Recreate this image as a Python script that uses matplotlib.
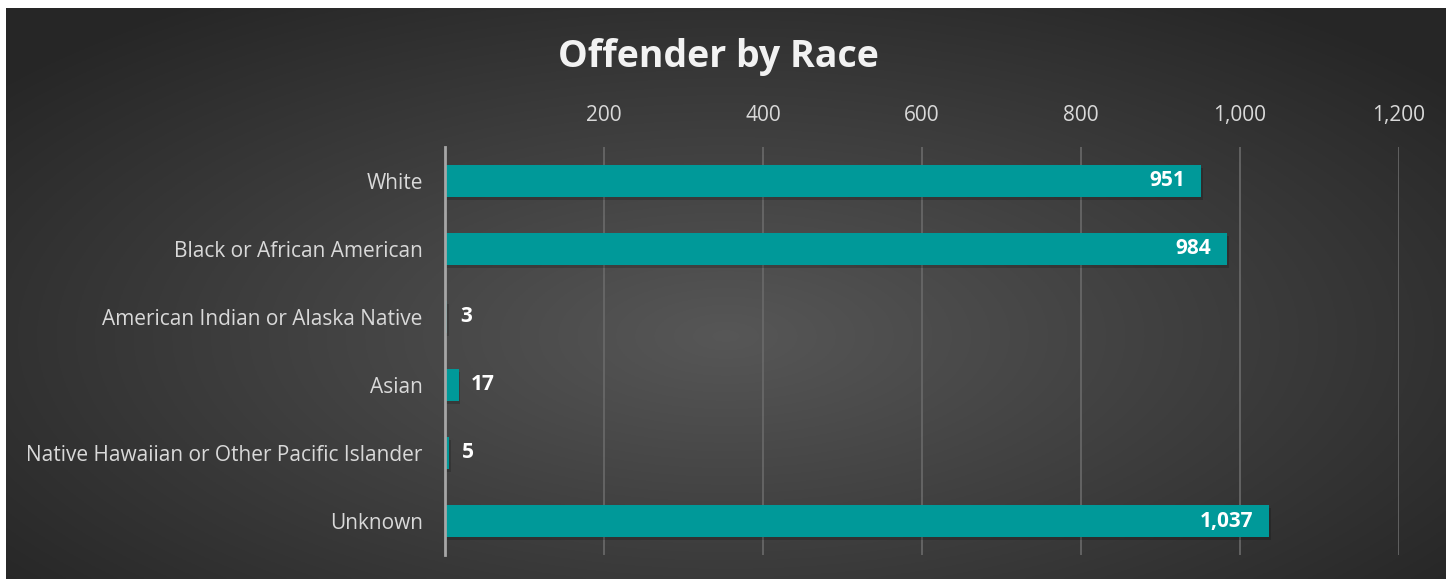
import numpy as np
import matplotlib.pyplot as plt

categories = ["White", "Black or African American", "American Indian or Alaska Native",
              "Asian", "Native Hawaiian or Other Pacific Islander", "Unknown"]
counts = [951, 984, 3, 17, 5, 1037]
xticks = [200, 400, 600, 800, 1000, 1200]
xtick_labels = ["200", "400", "600", "800", "1,000", "1,200"]

plt.rcParams['font.family'] = ['Open Sans', 'DejaVu Sans']

fig = plt.figure(figsize=(14.46, 5.79), dpi=100)
fig.patch.set_facecolor("white")

# radial gradient background
bg = fig.add_axes([6 / 1446, 0, 1 - 6 / 1446, 1 - 8 / 579])
bg.set_axis_off()
yy, xx = np.mgrid[-1:1:300j, -1:1:700j]
r = np.sqrt((xx / 1.0) ** 2 + ((yy - 0.15) / 1.1) ** 2)
r = np.clip(r / 1.3, 0, 1)
shade = 0.34 - 0.19 * r
bg.imshow(np.dstack([shade, shade, shade]), aspect="auto", extent=[0, 1, 0, 1])

ax = fig.add_axes([445 / 1446, 1 - 555 / 579, (1399 - 445) / 1446, (555 - 147) / 579])
ax.patch.set_alpha(0)
y = np.arange(len(categories))

# soft shadow
ax.barh(y + 0.05, [c + 2 for c in counts], height=0.47, color="black", alpha=0.18, zorder=2)
ax.barh(y, counts, height=0.47, color="#009999", zorder=3)

ax.set_xlim(0, 1200)
ax.set_ylim(5.5, -0.5)
ax.set_yticks(y)
ax.set_yticklabels(categories, color="#d9d9d9", fontsize=15)
ax.set_xticks(xticks)
ax.set_xticklabels(xtick_labels, color="#d9d9d9", fontsize=15)
ax.xaxis.tick_top()
ax.tick_params(axis="both", length=0)
ax.tick_params(axis="x", pad=15)
ax.tick_params(axis="y", pad=16)
ax.grid(axis="x", color="#6a6a6a", linewidth=1.2, zorder=0)
for s in ["top", "right", "bottom"]:
    ax.spines[s].set_visible(False)
ax.spines["left"].set_color("#a6a6a6")
ax.spines["left"].set_linewidth(2)
ax.spines["left"].set_zorder(4)

for yi, v in zip(y, counts):
    lab = f"{v:,}"
    if v > 100:
        ax.text(v - 20, yi, lab, ha="right", va="center", color="white",
                fontsize=15, fontweight="bold", zorder=5)
    else:
        ax.text(v + 16, yi, lab, ha="left", va="center", color="white",
                fontsize=15, fontweight="bold", zorder=5)

fig.text(0.5 - 0.003, 1 - 57 / 579, "Offender by Race", ha="center", va="center",
         color="#f2f2f2", fontsize=27, fontweight="bold")

fig.savefig("out.png", dpi=100)
